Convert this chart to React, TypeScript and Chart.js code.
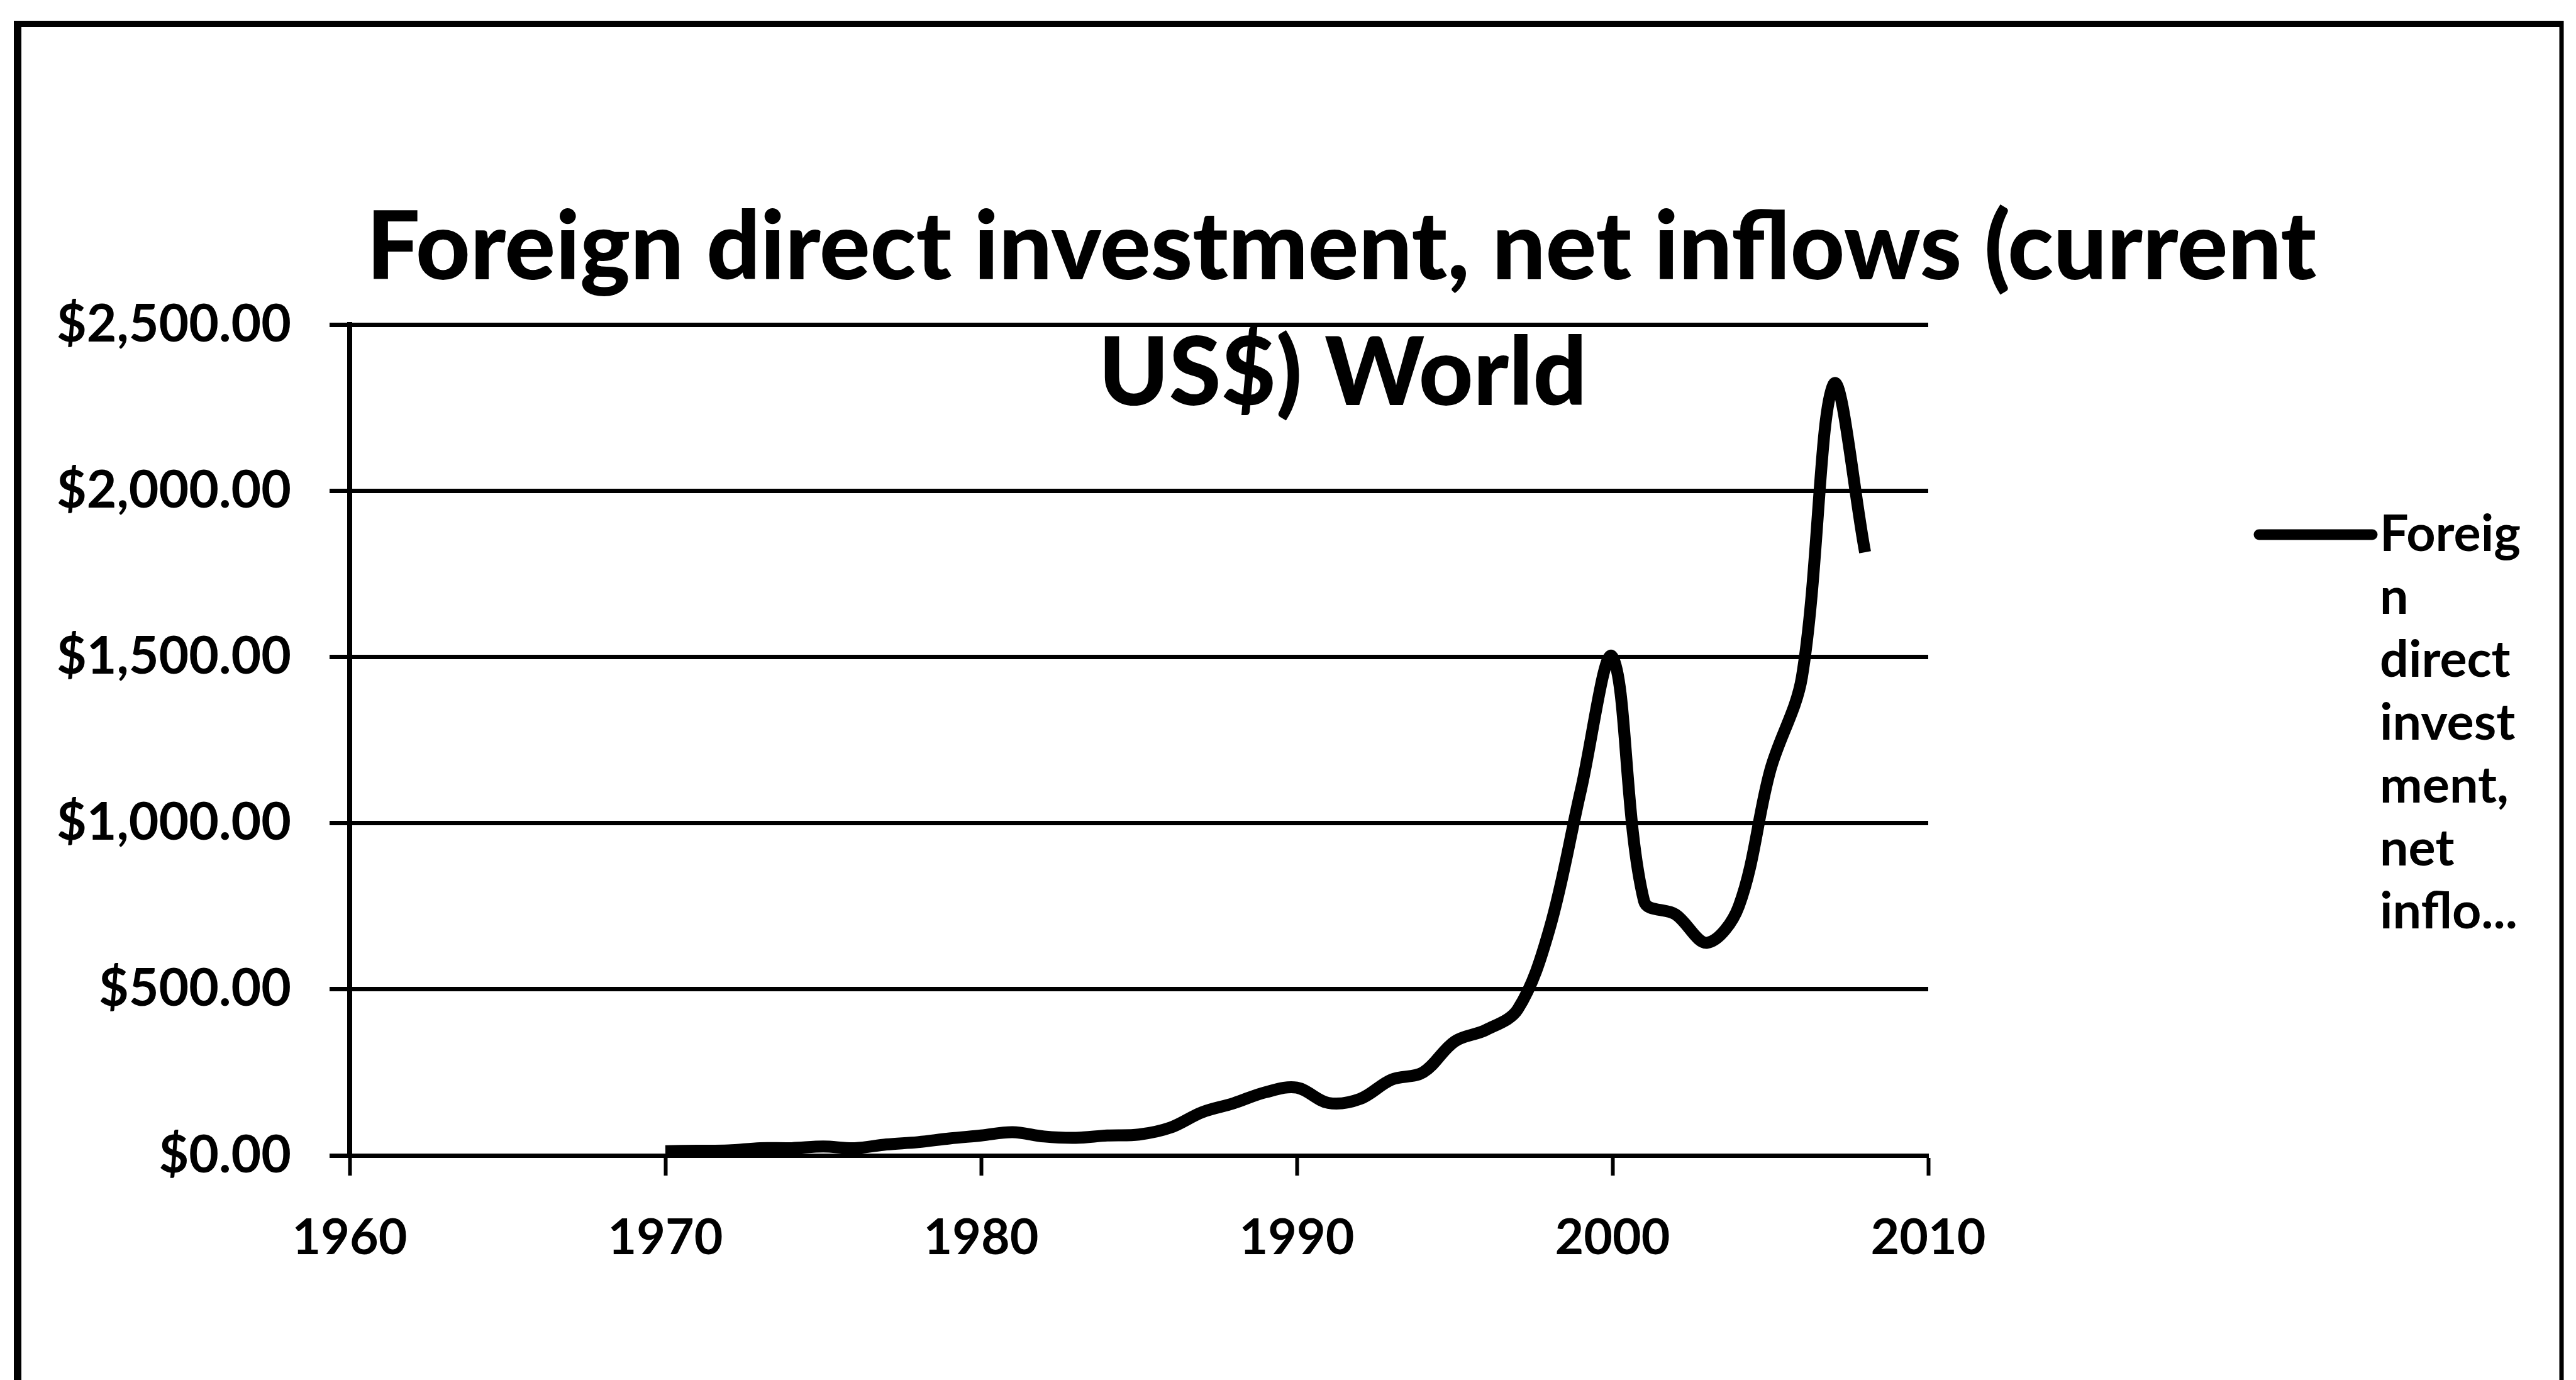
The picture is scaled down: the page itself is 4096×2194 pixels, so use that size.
import React, { useEffect, useRef } from 'react';
import { Chart, registerables } from 'chart.js';

Chart.register(...registerables);

// ---------------- data ----------------
const years = [
  1970, 1971, 1972, 1973, 1974, 1975, 1976, 1977, 1978, 1979,
  1980, 1981, 1982, 1983, 1984, 1985, 1986, 1987, 1988, 1989,
  1990, 1991, 1992, 1993, 1994, 1995, 1996, 1997, 1998, 1999,
  2000, 2001, 2002, 2003, 2004, 2005, 2006, 2007, 2008,
];
// FDI net inflows, world (billions of current US$)
const fdiValues = [
  13, 14, 15, 22, 22, 27, 22, 33, 40, 51,
  60, 70, 57, 53, 60, 63, 84, 130, 157, 190,
  204, 158, 170, 228, 250, 343, 378, 440, 680, 1100,
  1500, 765, 725, 640, 750, 1160, 1440, 2320, 1815,
];
const xTickValues = [1960, 1970, 1980, 1990, 2000, 2010];
const yTickValues = [0, 500, 1000, 1500, 2000, 2500];
const titleLines = ['Foreign direct investment, net inflows (current', 'US$) World'];
const seriesLabel = 'Foreign direct investment, net inflows (current US$) World';
const legendLines = ['Foreig', 'n', 'direct', 'invest', 'ment,', 'net', 'inflo...'];

// ---------------- layout ----------------
const W = 4096;
const H = 2194;
const AREA = { left: 556, right: 3066, top: 516, bottom: 1837 };
const FONT = 'Lato';

function fitSize(text: string, targetWidth: number, weight = 'bold'): number {
  const c = document.createElement('canvas').getContext('2d') as CanvasRenderingContext2D;
  c.font = `${weight} 100px ${FONT}`;
  const w = c.measureText(text).width || 1;
  return (100 * targetWidth) / w;
}

function fmtMoney(v: number): string {
  return '$' + Number(v).toLocaleString('en-US', { minimumFractionDigits: 2, maximumFractionDigits: 2 });
}

export default function App() {
  const ref = useRef<HTMLCanvasElement | null>(null);

  useEffect(() => {
    const canvas = ref.current;
    if (!canvas) return;

    const xTickSize = fitSize('1960', 183);
    const yTickSize = fitSize(fmtMoney(2500), 373);
    const legendSize = fitSize('Foreig', 224);
    const titleWeight = '900';
    const titleSize = fitSize(titleLines[0], 3101, titleWeight);

    const framePlugin = {
      id: 'frame',
      beforeDraw(chart: any) {
        const ctx = chart.ctx as CanvasRenderingContext2D;
        ctx.save();
        ctx.fillStyle = '#fff';
        ctx.fillRect(0, 0, chart.width, chart.height);
        ctx.strokeStyle = '#000';
        ctx.lineCap = 'butt';
        ctx.lineWidth = 12;
        ctx.beginPath();
        ctx.moveTo(28, H + 10);
        ctx.lineTo(28, 38);
        ctx.stroke();
        ctx.lineWidth = 10;
        ctx.beginPath();
        ctx.moveTo(22, 38);
        ctx.lineTo(4076, 38);
        ctx.stroke();
        ctx.lineWidth = 7;
        ctx.beginPath();
        ctx.moveTo(4073, 33);
        ctx.lineTo(4073, H + 10);
        ctx.stroke();
        ctx.restore();
      },
    };

    const textPlugin = {
      id: 'titleAndLegend',
      afterDraw(chart: any) {
        const ctx = chart.ctx as CanvasRenderingContext2D;
        ctx.save();
        ctx.fillStyle = '#000';
        // title (overlaps the plot, as in the original)
        ctx.font = `${titleWeight} ${titleSize}px ${FONT}`;
        ctx.textAlign = 'center';
        ctx.textBaseline = 'alphabetic';
        ctx.fillText(titleLines[0], 2133, 444);
        ctx.fillText(titleLines[1], 2135, 644);

        // legend
        const ly = 850;
        ctx.strokeStyle = chart.data.datasets[0].borderColor;
        ctx.lineWidth = 17;
        ctx.lineCap = 'round';
        ctx.beginPath();
        ctx.moveTo(3592, ly);
        ctx.lineTo(3772, ly);
        ctx.stroke();
        ctx.font = `bold ${legendSize}px ${FONT}`;
        ctx.textAlign = 'left';
        ctx.textBaseline = 'middle';
        legendLines.forEach((t, i) => ctx.fillText(t, 3784, ly + i * 100));
        ctx.restore();
      },
    };

    const chart = new Chart(canvas, {
      type: 'line',
      data: {
        datasets: [
          {
            label: seriesLabel,
            data: years.map((yr, i) => ({ x: yr, y: fdiValues[i] })),
            borderColor: '#000',
            backgroundColor: '#000',
            borderWidth: 19,
            pointRadius: 0,
            pointHoverRadius: 0,
            tension: 0.35,
            fill: false,
            borderCapStyle: 'butt',
            borderJoinStyle: 'round',
          },
        ],
      },
      options: {
        responsive: false,
        animation: false,
        devicePixelRatio: 1,
        events: [],
        layout: {
          padding: { left: 0, top: AREA.top, right: W - AREA.right, bottom: 0 },
        },
        plugins: {
          legend: { display: false },
          title: { display: false },
          tooltip: { enabled: false },
        },
        scales: {
          x: {
            type: 'linear',
            min: 1960,
            max: 2010,
            afterBuildTicks: (s: any) => {
              s.ticks = xTickValues.map((v) => ({ value: v }));
            },
            afterFit: (s: any) => {
              s.height = H - AREA.bottom;
            },
            ticks: {
              color: '#000',
              font: { family: FONT, weight: 'bold', size: xTickSize },
              padding: 52,
              maxRotation: 0,
              autoSkip: false,
              callback: (v: any) => String(v),
            },
            grid: {
              drawOnChartArea: false,
              drawTicks: true,
              tickLength: 32,
              tickWidth: 6,
              tickColor: '#000',
            },
            border: { display: true, color: '#000', width: 7 },
          },
          y: {
            type: 'linear',
            min: 0,
            max: 2500,
            afterBuildTicks: (s: any) => {
              s.ticks = yTickValues.map((v) => ({ value: v }));
            },
            afterFit: (s: any) => {
              s.width = AREA.left;
            },
            ticks: {
              color: '#000',
              font: { family: FONT, weight: 'bold', size: yTickSize },
              padding: 61,
              autoSkip: false,
              callback: (v: any) => fmtMoney(v),
            },
            grid: {
              color: '#000',
              lineWidth: 7,
              drawTicks: true,
              tickLength: 32,
              tickWidth: 7,
              tickColor: '#000',
            },
            border: { display: true, color: '#000', width: 8 },
          },
        },
      },
      plugins: [framePlugin, textPlugin],
    } as any);

    return () => chart.destroy();
  }, []);

  return (
    <div style={{ position: 'fixed', left: 0, top: 0, width: W, height: H, background: '#fff' }}>
      <canvas ref={ref} width={W} height={H} style={{ display: 'block', width: W, height: H }} />
    </div>
  );
}
